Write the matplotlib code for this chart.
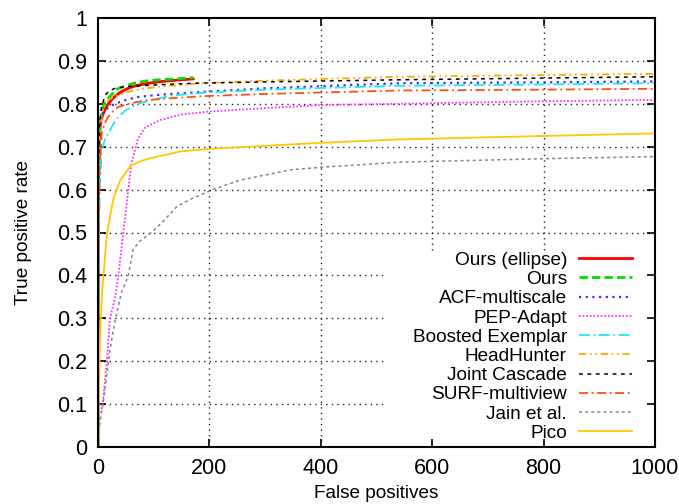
import matplotlib
matplotlib.use('Agg')
import matplotlib.pyplot as plt

plt.rcParams['font.family'] = ['Liberation Sans', 'DejaVu Sans']

# Кривые (x - false positives, y - true positive rate)
ours_ell_x = [0, 0.3, 0.6, 1, 2, 3.6, 6, 9.6, 14, 18.5, 25, 30.5, 40, 54, 70, 90, 114, 140, 171]
ours_ell_y = [0.0, 0.3, 0.5, 0.62, 0.69, 0.745, 0.765, 0.778, 0.79, 0.80, 0.81, 0.817, 0.827, 0.836, 0.843, 0.848, 0.852, 0.855, 0.858]

ours_x = [0, 0.3, 0.6, 1, 2, 4, 7, 12, 18.5, 25, 36.5, 50, 65, 84, 110, 140, 171]
ours_y = [0.0, 0.35, 0.55, 0.66, 0.72, 0.76, 0.785, 0.803, 0.813, 0.822, 0.836, 0.842, 0.848, 0.853, 0.856, 0.858, 0.861]

acf_x = [0, 0.3, 0.6, 1, 3, 6, 12.6, 20, 30.5, 50, 72, 100, 144, 192, 300, 542, 800, 1000]
acf_y = [0.0, 0.4, 0.6, 0.74, 0.76, 0.772, 0.785, 0.793, 0.80, 0.809, 0.816, 0.82, 0.824, 0.828, 0.836, 0.848, 0.85, 0.852]

pep_x = [6, 10, 13, 16, 21.5, 31, 36.5, 45.5, 54.5, 60, 66, 72, 85, 111, 150, 201, 300, 400, 542, 800, 1000]
pep_y = [0.08, 0.12, 0.16, 0.20, 0.30, 0.35, 0.40, 0.50, 0.60, 0.66, 0.69, 0.72, 0.745, 0.762, 0.775, 0.782, 0.79, 0.797, 0.80, 0.806, 0.809]

boosted_x = [0, 0.5, 1, 3, 6.6, 12, 18.5, 27, 36.5, 50, 72, 100, 132, 192, 300, 542, 800, 1000]
boosted_y = [0.0, 0.3, 0.45, 0.6, 0.692, 0.715, 0.731, 0.752, 0.77, 0.785, 0.80, 0.81, 0.819, 0.826, 0.833, 0.842, 0.845, 0.848]

hh_x = [0, 0.5, 1, 3, 6, 12.6, 20, 30.5, 54, 80, 114, 186, 300, 542, 800, 1000]
hh_y = [0.0, 0.4, 0.6, 0.72, 0.77, 0.80, 0.81, 0.817, 0.828, 0.835, 0.84, 0.848, 0.854, 0.863, 0.867, 0.870]

joint_x = [0, 0.3, 0.6, 1, 3, 6, 12.6, 20, 30.5, 50, 75, 102, 174, 300, 542, 800, 1000]
joint_y = [0.0, 0.35, 0.55, 0.66, 0.75, 0.79, 0.82, 0.83, 0.836, 0.84, 0.842, 0.844, 0.848, 0.851, 0.856, 0.86, 0.863]

surf_x = [0, 0.5, 1, 3, 6.6, 12, 18.5, 27, 36.5, 55, 84, 130, 192, 300, 542, 800, 1000]
surf_y = [0.0, 0.3, 0.45, 0.65, 0.73, 0.755, 0.77, 0.783, 0.793, 0.80, 0.808, 0.813, 0.818, 0.823, 0.831, 0.833, 0.835]

jain_x = [3, 6, 9, 15, 22, 30, 42, 54.5, 63, 75, 96, 120, 141, 170, 206, 255, 345, 400, 542, 800, 1000]
jain_y = [0.05, 0.08, 0.10, 0.16, 0.23, 0.29, 0.36, 0.40, 0.46, 0.48, 0.50, 0.53, 0.56, 0.58, 0.60, 0.622, 0.646, 0.652, 0.664, 0.672, 0.677]

pico_x = [0, 0.6, 3.6, 6.6, 7.7, 9.6, 15.6, 21.5, 28, 33.5, 40, 51, 60, 80, 110, 135, 147, 200, 400, 542, 800, 1000]
pico_y = [0.0, 0.07, 0.25, 0.34, 0.366, 0.397, 0.49, 0.537, 0.58, 0.60, 0.622, 0.642, 0.657, 0.668, 0.678, 0.685, 0.689, 0.695, 0.709, 0.717, 0.725, 0.731]

x_ticks = [0, 200, 400, 600, 800, 1000]
y_ticks = [0, 0.1, 0.2, 0.3, 0.4, 0.5, 0.6, 0.7, 0.8, 0.9, 1]
y_tick_labels = ['0', '0.1', '0.2', '0.3', '0.4', '0.5', '0.6', '0.7', '0.8', '0.9', '1']

fig = plt.figure(figsize=(6.79, 5.04), dpi=100)
ax = fig.add_axes([98 / 679, 57 / 504, 557 / 679, 429 / 504])

# сетка как в gnuplot: обрывается на белом поле легенды
key_left = 0.515   # левый край поля легенды (доли оси)
key_top = 0.46     # верх поля легенды
grid_style = dict(color='#222222', linestyle=(0, (1, 3)), lw=1, zorder=1.5)
for yt in y_ticks[1:-1]:
    ax.axhline(yt, 0, key_left if yt < key_top else 1, **grid_style)
for xt in x_ticks[1:-1]:
    ax.axvline(xt, key_top if xt / 1000 > key_left else 0, 1, **grid_style)

ax.plot(ours_ell_x, ours_ell_y, color='#ff0000', lw=2, label='Ours (ellipse)')
ax.plot(ours_x, ours_y, color='#00dd00', lw=2, linestyle=(0, (3, 1.5)), label='Ours')
ax.plot(acf_x, acf_y, color='#3030ff', lw=1.6, linestyle=(0, (1, 2)), label='ACF-multiscale')
ax.plot(pep_x, pep_y, color='#ff30ff', lw=1.3, linestyle=(0, (1, 1)), label='PEP-Adapt')
ax.plot(boosted_x, boosted_y, color='#20e8f0', lw=1.3, linestyle=(0, (6, 2, 1, 2)), label='Boosted Exemplar')
ax.plot(hh_x, hh_y, color='#ffaa00', lw=1.3, linestyle=(0, (4, 2, 1, 2, 1, 2)), label='HeadHunter')
ax.plot(joint_x, joint_y, color='#000000', lw=1.1, linestyle=(0, (2.5, 3)), label='Joint Cascade')
ax.plot(surf_x, surf_y, color='#ff5010', lw=1.3, linestyle=(0, (5, 2, 1, 2)), label='SURF-multiview')
ax.plot(jain_x, jain_y, color='#888888', lw=1.1, linestyle=(0, (2, 2)), label='Jain et al.')
ax.plot(pico_x, pico_y, color='#ffc800', lw=1.3, label='Pico')

ax.set_xlim(0, 1000)
ax.set_ylim(0, 1)
ax.set_xticks(x_ticks)
ax.set_yticks(y_ticks)
ax.set_yticklabels(y_tick_labels)
ax.tick_params(direction='in', top=True, right=True, length=6, width=1.2, labelsize=15.5, pad=8)
for s in ax.spines.values():
    s.set_linewidth(1.5)
    s.set_zorder(3)

ax.set_xlabel('False positives', fontsize=13.7, labelpad=4)
ax.set_ylabel('True positive rate', fontsize=13.7, labelpad=18)

leg = ax.legend(loc='lower right', bbox_to_anchor=(0.959, 0.012), markerfirst=False,
                fontsize=13.7, frameon=False, borderaxespad=0, borderpad=0,
                handlelength=2.8, labelspacing=0.1, handletextpad=0.63)

fig.savefig('out.png', dpi=100)
